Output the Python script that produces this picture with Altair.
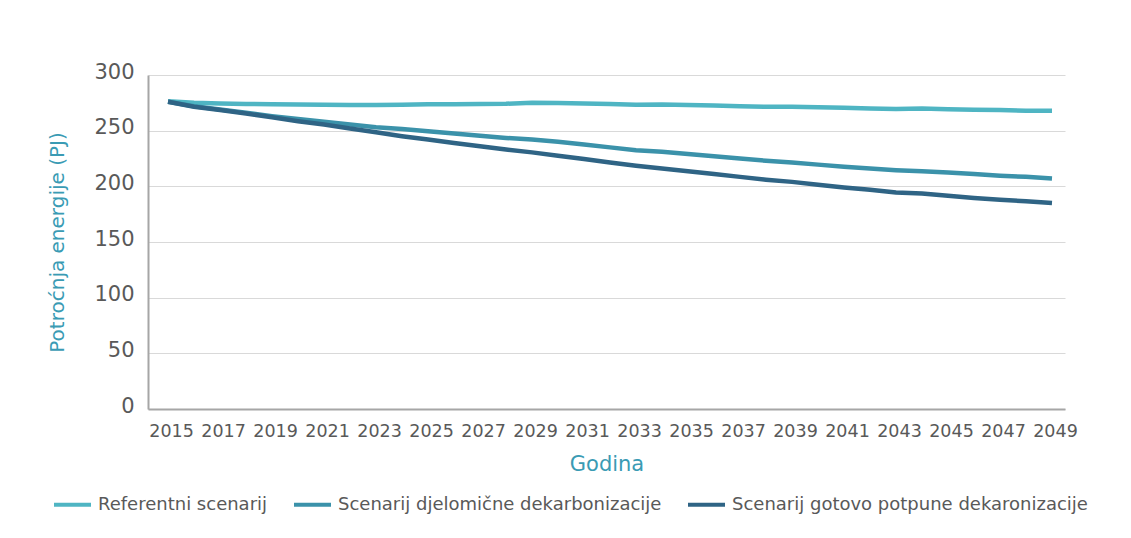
import altair as alt
import pandas as pd

years = list(range(2015, 2050))

series_names = [
    "Referentni scenarij",
    "Scenarij djelomične dekarbonizacije",
    "Scenarij gotovo potpune dekaronizacije",
]

referentni = [276.4, 275.0, 274.5, 274.0, 273.8, 273.5, 273.3, 273.0, 273.0, 273.3,
              273.8, 273.8, 274.0, 274.2, 275.0, 274.8, 274.5, 274.0, 273.2, 273.5,
              273.0, 272.5, 272.0, 271.5, 271.5, 271.0, 270.5, 270.0, 269.5, 269.8,
              269.2, 268.8, 268.5, 268.0, 267.8]

djelomicne = [276.0, 272.0, 269.0, 266.0, 263.0, 260.5, 258.0, 255.5, 253.0, 251.5,
              249.5, 247.5, 245.5, 243.5, 242.0, 240.0, 237.5, 235.0, 232.5, 231.0,
              229.0, 227.0, 225.0, 223.0, 221.5, 219.5, 217.5, 216.0, 214.5, 213.5,
              212.5, 211.0, 209.5, 208.5, 207.0]

gotovo_potpune = [276.0, 271.5, 268.5, 265.5, 262.0, 258.5, 255.5, 252.0, 248.5, 245.0,
                  242.0, 239.0, 236.0, 233.0, 230.5, 227.5, 224.5, 221.5, 218.5, 216.0,
                  213.5, 211.0, 208.5, 206.0, 204.0, 201.5, 199.0, 197.0, 194.5, 193.5,
                  191.5, 189.5, 188.0, 186.5, 185.0]

tick_years = list(range(2015, 2050, 2))
y_ticks = [0, 50, 100, 150, 200, 250, 300]

colors = ["#4fb5c3", "#3b92aa", "#2f6485"]

rows = []
for name, vals in zip(series_names, [referentni, djelomicne, gotovo_potpune]):
    for yr, v in zip(years, vals):
        rows.append({"Godina": yr, "Scenarij": name, "Vrijednost": v})
df = pd.DataFrame(rows)

FONT = "DejaVu Sans"

chart = alt.Chart(df).mark_line(strokeWidth=4.5).encode(
    x=alt.X(
        "Godina:Q",
        scale=alt.Scale(domain=[2014.23, 2049.5], nice=False, zero=False),
        axis=alt.Axis(
            values=tick_years,
            format="d",
            title="Godina",
            grid=False,
            ticks=False,
            domainColor="#a6a6a6",
            domainWidth=2,
            labelFontSize=17.5,
            labelColor="#595959",
            labelPadding=13,
            labelOffset=3,
            titleFontSize=21,
            titleFontWeight="normal",
            titleColor="#3a9bb4",
            titlePadding=14,
        ),
    ),
    y=alt.Y(
        "Vrijednost:Q",
        scale=alt.Scale(domain=[0, 300], nice=False),
        axis=alt.Axis(
            values=y_ticks,
            title="Potroćnja energije (PJ)",
            grid=True,
            gridColor="#d9d9d9",
            gridWidth=1.2,
            ticks=False,
            domainColor="#a6a6a6",
            domainWidth=2,
            labelFontSize=21,
            labelColor="#595959",
            labelPadding=14,
            labelOffset=-3,
            titleFontSize=20,
            titleFontWeight="normal",
            titleColor="#3a9bb4",
            titlePadding=26,
        ),
    ),
    color=alt.Color(
        "Scenarij:N",
        sort=series_names,
        scale=alt.Scale(domain=series_names, range=colors),
        legend=alt.Legend(
            title=None,
            orient="none",
            legendX=-96,
            legendY=409,
            direction="horizontal",
            symbolType="stroke",
            symbolSize=1369,
            symbolStrokeWidth=4,
            labelFontSize=18,
            labelColor="#595959",
            labelLimit=0,
            labelOffset=5,
            columnPadding=18,
            padding=0,
        ),
    ),
).properties(
    width=917,
    height=334,
    padding={"left": 140, "top": 67, "right": 50, "bottom": 118},
    autosize=alt.AutoSizeParams(type="none"),
    background="white",
).configure(
    font=FONT
).configure_view(
    stroke=None
)

chart.save("out.html", embed_options={"renderer": "svg", "actions": False})
